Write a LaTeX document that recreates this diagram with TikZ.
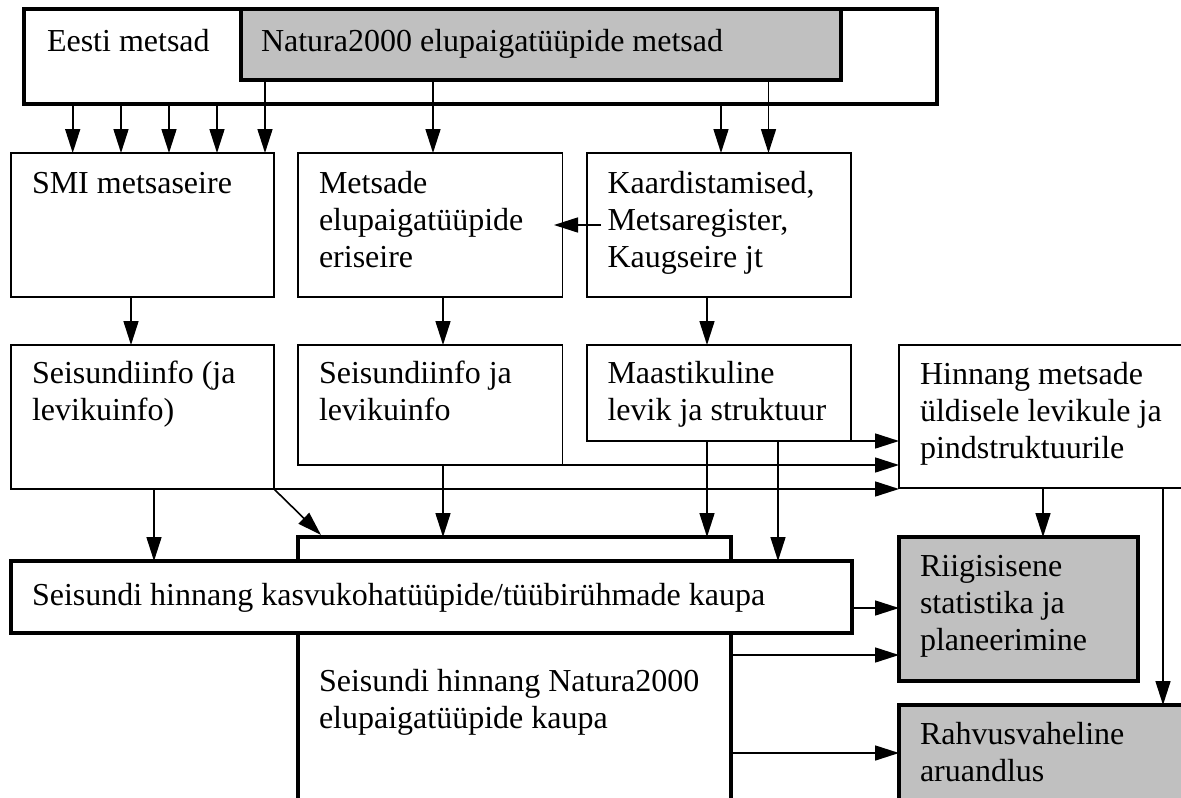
\documentclass[tikz,border=0pt]{standalone}
\usepackage{fontspec}
\setmainfont{Liberation Serif}
\usetikzlibrary{arrows.meta,calc}
\definecolor{boxgray}{RGB}{192,192,192}
\begin{document}
\begin{tikzpicture}[x=1pt,y=-1pt,
  box/.style={draw, line width=1.6pt, fill=white, anchor=north west, inner sep=0pt, outer sep=0pt},
  thickbox/.style={box, line width=4pt},
  graybox/.style={thickbox, fill=boxgray},
  lbl/.style={anchor=north west, inner sep=0pt, outer sep=0pt, align=left, font=\fontsize{32}{36.7}\selectfont},
  arr/.style={line width=1.6pt, -{Triangle[length=24pt,width=15pt]}},
  ln/.style={line width=1.6pt},
]
\useasboundingbox (0,0) rectangle (1181,798);
\clip (0,0) rectangle (1181,798);

% top boxes
\node[thickbox, minimum width=913pt, minimum height=95pt] (eesti) at (24,9) {};
\node[graybox, minimum width=600pt, minimum height=71pt] (natN) at (241,9) {};

% second row
\node[box, minimum width=263.3pt, minimum height=144pt] (smi) at (10.7,153) {};
\node[box, minimum width=264.6pt, minimum height=144pt] (mets) at (298,153) {};
\node[box, minimum width=264pt, minimum height=144pt] (kaart) at (587,153) {};

% third row
\node[box, minimum width=263.3pt, minimum height=144pt] (s1) at (10.7,345) {};
\node[box, minimum width=264.6pt, minimum height=120pt] (s2) at (298,345) {};
\node[box, minimum width=264pt, minimum height=96pt] (maast) at (587,345) {};
\node[box, minimum width=320pt, minimum height=143pt] (hinn) at (899,345) {};

% bottom boxes
\node[thickbox, minimum width=433pt, minimum height=300pt] (natH) at (298,537) {};
\node[thickbox, minimum width=841.3pt, minimum height=72pt] (kasv) at (10.7,561) {};
\node[graybox, minimum width=239pt, minimum height=144pt] (riik) at (899,537) {};
\node[graybox, minimum width=320pt, minimum height=150pt] (rahv) at (899,705) {};

% arrows from top
\draw[arr] (72.7,0 |- eesti.south) -- (72.7,0 |- smi.north);
\draw[arr] (121,0 |- eesti.south) -- (121,0 |- smi.north);
\draw[arr] (169,0 |- eesti.south) -- (169,0 |- smi.north);
\draw[arr] (217,0 |- eesti.south) -- (217,0 |- smi.north);
\draw[arr] (265,0 |- natN.south) -- (265,0 |- smi.north);
\draw[arr] (433,0 |- natN.south) -- (433,0 |- mets.north);
\draw[arr] (721,0 |- eesti.south) -- (721,0 |- kaart.north);
\draw[arr] (768.5,0 |- natN.south) -- (768.5,0 |- kaart.north);

% second row connectors
\draw[arr] ($(kaart.west)+(14,0)$) -- ($(mets.east)+(-8.6,0)$);
\draw[arr] (131,0 |- smi.south) -- (131,0 |- s1.north);
\draw[arr] (443,0 |- mets.south) -- (443,0 |- s2.north);
\draw[arr] (707,0 |- kaart.south) -- (707,0 |- maast.north);

% third row connectors
\draw[arr] (maast.south east) -- (hinn.west |- maast.south east);
\draw[arr] (s2.south east) -- (hinn.west |- s2.south east);
\draw[arr] (s1.south east) -- (hinn.west |- s1.south east);
\draw[arr] (154,0 |- s1.south) -- (154,0 |- kasv.north);
\draw[arr] (s1.south east) -- ($(natH.north west)+(23,-2)$);
\draw[arr] (443,0 |- s2.south) -- (443,0 |- natH.north);
\draw[arr] (707,0 |- maast.south) -- (707,0 |- natH.north);
\draw[arr] (778,0 |- maast.south) -- (778,0 |- kasv.north);
\draw[arr] (1043,0 |- hinn.south) -- (1043,0 |- riik.north);
\draw[arr] (1163,0 |- hinn.south) -- (1163,0 |- rahv.north);

% bottom connectors
\draw[arr] (kasv.east |- 0,608) -- (riik.west |- 0,608);
\draw[arr] (natH.east |- 0,655) -- (riik.west |- 0,655);
\draw[arr] (natH.east |- 0,753) -- (rahv.west |- 0,753);

% texts
\node[lbl] (teesti) at ($(eesti.north west)+(23,17.3)$) {\strut Eesti metsad};
\node[lbl] (tnatN) at ($(natN.north west)+(20,17.3)$) {\strut Natura2000 elupaigatüüpide metsad};
\node[lbl] (tsmi) at ($(smi.north west)+(21.3,15.3)$) {\strut SMI metsaseire};
\node[lbl] (tmets) at ($(mets.north west)+(21,15.3)$) {\strut Metsade\\elupaigatüüpide\\eriseire};
\node[lbl] (tkaart) at ($(kaart.north west)+(20.5,15.3)$) {\strut Kaardistamised,\\Metsaregister,\\Kaugseire jt};
\node[lbl] (ts1) at ($(s1.north west)+(21.3,13.3)$) {\strut Seisundiinfo (ja\\levikuinfo)};
\node[lbl] (ts2) at ($(s2.north west)+(21,13.3)$) {\strut Seisundiinfo ja\\levikuinfo};
\node[lbl] (tmaast) at ($(maast.north west)+(20.5,13.3)$) {\strut Maastikuline\\levik ja struktuur};
\node[lbl] (thinn) at ($(hinn.north west)+(21,14.3)$) {\strut Hinnang metsade\\üldisele levikule ja\\pindstruktuurile};
\node[lbl] (tkasv) at ($(kasv.north west)+(21.3,19.3)$) {\strut Seisundi hinnang kasvukohatüüpide/tüübirühmade kaupa};
\node[lbl] (tnatH) at ($(natH.north west)+(21,129.3)$) {\strut Seisundi hinnang Natura2000\\elupaigatüüpide kaupa};
\node[lbl] (triik) at ($(riik.north west)+(21,14.3)$) {\strut Riigisisene\\statistika ja\\planeerimine};
\node[lbl] (trahv) at ($(rahv.north west)+(21,14.3)$) {\strut Rahvusvaheline\\aruandlus};
\end{tikzpicture}
\end{document}
